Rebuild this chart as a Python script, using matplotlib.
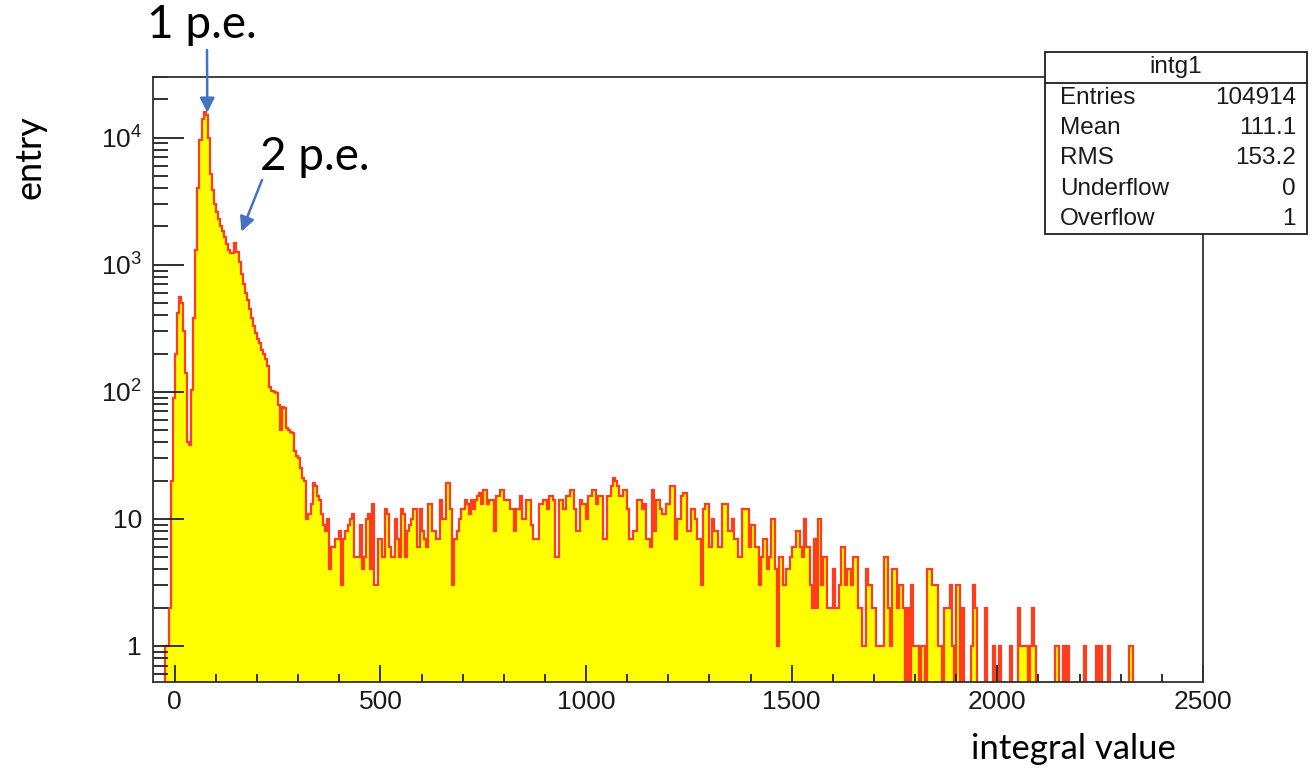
import numpy as np
import matplotlib
matplotlib.use("Agg")
import matplotlib.pyplot as plt
from matplotlib.ticker import FixedLocator, MultipleLocator, LogLocator, FixedFormatter, NullFormatter
from matplotlib.patches import Rectangle
from matplotlib.lines import Line2D

# ---------------- data (histogram "intg1", bin width 5, range -50 .. 2500) ----------------
BIN_LO, BIN_HI, NBINS = -50.0, 2500.0, 510

counts_pre = [0, 0, 0, 0, 0, 1, 1, 2, 20, 90]                      # -50 .. -5

counts_peak = [200, 420, 560, 500, 300, 140, 40, 38, 104, 380,     # 0 .. 45
               1300, 4000, 9500, 14000, 16000, 15000, 10000, 5200, 3900, 3000,
               2600, 2300, 2000, 1850, 1650, 1450, 1300, 1240, 1240, 1480,
               1250, 1050, 850, 700, 600, 530, 450, 380, 330, 290,
               260, 240, 215, 200, 180, 160, 110, 102, 100, 98]      # .. 245

counts_fall = [78, 50, 76, 74, 52, 50, 48, 47, 34, 31,
               30, 25, 21, 20, 10, 11, 13, 19, 18, 15,
               14, 11, 9, 8, 10, 4, 6, 6, 7, 7,
               8, 3, 7, 8, 9, 10, 11, 5, 5, 5,
               9, 4, 5, 10, 11, 4, 13, 3, 3, 7]                      # 250 .. 495

counts_mid = [7, 5, 12, 11, 6, 5, 5, 10, 7, 5,
              12, 11, 5, 8, 9, 10, 12, 12, 6, 12,
              8, 7, 6, 13, 13, 8, 8, 7, 7, 14,
              10, 10, 19, 19, 12, 3, 7, 8, 10, 12,
              12, 14, 13, 11, 14, 12, 14, 15, 16, 13,
              17, 17, 13, 14, 14, 8, 15, 15, 17, 17,
              14, 14, 14, 12, 12, 8, 12, 12, 15, 10,
              10, 14, 14, 9, 7, 7, 7, 13, 13, 14,
              14, 12, 15, 15, 14, 5, 5, 14, 14, 12,
              15, 15, 17, 17, 12, 8, 8, 14, 13, 13]                 # 500 .. 995

counts_high = [10, 15, 15, 17, 17, 13, 15, 15, 7, 7,
               15, 15, 18, 21, 20, 18, 15, 15, 17, 17,
               12, 7, 7, 8, 8, 14, 14, 12, 13, 7,
               7, 6, 17, 8, 14, 14, 12, 11, 11, 13,
               13, 18, 18, 7, 10, 10, 15, 16, 16, 8,
               8, 12, 12, 10, 7, 7, 3, 12, 13, 13,
               6, 10, 8, 8, 6, 6, 13, 13, 13, 8,
               8, 10, 7, 7, 5, 5, 12, 12, 12, 6,
               9, 9, 6, 6, 3, 5, 7, 7, 4, 5,
               10, 10, 4, 1, 5, 5, 3, 4, 4, 5]                      # 1000 .. 1495

counts_tail = [6, 6, 8, 8, 6, 5, 10, 6, 6, 3,
               2, 7, 2, 10, 3, 5, 5, 2, 2, 2,
               4, 2, 2, 3, 6, 6, 3, 4, 4, 3,
               5, 5, 2, 2, 1, 1, 4, 3, 3, 2,
               2, 1, 1, 1, 1, 5, 5, 2, 1, 4,
               4, 2, 3, 3, 2, 0, 2, 0, 3, 1,
               1, 1, 0, 1, 1, 0, 4, 4, 3, 3,
               3, 1, 1, 0, 2, 2, 2, 3, 1, 0,
               3, 3, 0, 2, 0, 0, 0, 1, 3, 2,
               0, 0, 0, 0, 2, 0, 0, 0, 1, 0,
               0, 1, 0, 0, 0, 0, 1, 0, 0, 0,
               2, 1, 1, 1, 1, 0, 1, 2, 1, 0,
               0, 0, 0, 0, 0, 0, 0, 0, 1, 1,
               0, 0, 1, 0, 1, 0, 0, 0, 0, 0,
               0, 0, 1, 0, 0, 0, 0, 0, 1, 0,
               1, 0, 0, 0, 1, 0, 0, 0, 0, 0,
               0, 0, 0, 0, 1, 1, 0, 0, 0, 0,
               0, 0, 0, 0, 0, 0, 0, 0, 0, 0,
               0, 0, 0, 0, 0, 0, 0, 0, 0, 0,
               0, 0, 0, 0, 0, 0, 0, 0, 0, 0]                        # 1500 .. 2495

x_ticks = [0, 500, 1000, 1500, 2000, 2500]
x_tick_labels = ["0", "500", "1000", "1500", "2000", "2500"]
y_ticks = [1, 10, 100, 1000, 10000]
y_tick_labels = ["1", "10", r"$\mathregular{10^{2}}$", r"$\mathregular{10^{3}}$", r"$\mathregular{10^{4}}$"]

stats_title = "intg1"
stats_names = ["Entries", "Mean", "RMS", "Underflow", "Overflow"]
stats_values = ["104914", "111.1", "153.2", "0", "1"]

peak1_pos, peak1_val = 79, 15700
peak2_pos, peak2_val = 162, 1820

# ---------------- figure ----------------
plt.rcParams["font.family"] = ["Liberation Sans", "DejaVu Sans"]
plt.rcParams["mathtext.fontset"] = "custom"
plt.rcParams["mathtext.rm"] = "Liberation Sans"
plt.rcParams["mathtext.it"] = "Liberation Sans:italic"
plt.rcParams["mathtext.bf"] = "Liberation Sans:bold"

W, H = 1312, 770
fig = plt.figure(figsize=(W / 100, H / 100), dpi=100)
fig.patch.set_facecolor("white")


def fx(px):
    return px / W


def fy(py):
    return 1 - py / H


ax = fig.add_axes([fx(153), fy(682), fx(1203) - fx(153), fy(77) - fy(682)])

counts = np.concatenate([counts_pre, counts_peak, counts_fall, counts_mid, counts_high, counts_tail]).astype(float)
edges = np.linspace(BIN_LO, BIN_HI, NBINS + 1)
FLOOR = 1e-2
draw_vals = np.where(counts > 0, counts, FLOOR)

ax.stairs(draw_vals, edges, baseline=FLOOR, fill=True, color="#ffff00", lw=0)
ax.stairs(draw_vals, edges, baseline=FLOOR, color="#ff3c1c", lw=1.6)

ax.set_yscale("log")
ax.set_xlim(-53, 2500)
ax.set_ylim(0.52, 3.0e4)

for sp in ax.spines.values():
    sp.set_color("#303030")
    sp.set_linewidth(1.3)

ax.xaxis.set_major_locator(FixedLocator(x_ticks))
ax.xaxis.set_major_formatter(FixedFormatter(x_tick_labels))
ax.xaxis.set_minor_locator(MultipleLocator(100))
ax.yaxis.set_major_locator(FixedLocator(y_ticks))
ax.yaxis.set_major_formatter(FixedFormatter(y_tick_labels))
ax.yaxis.set_minor_locator(LogLocator(base=10, subs=np.arange(2, 10)))
ax.yaxis.set_minor_formatter(NullFormatter())

ax.tick_params(axis="both", which="both", direction="in", top=False, right=False,
               color="#202020", labelcolor="#1a1a1a")
ax.tick_params(axis="y", which="major", length=22, width=1.3, labelsize=19, pad=8)
ax.tick_params(axis="y", which="minor", length=11, width=1.3)
ax.tick_params(axis="x", which="major", length=12, width=1.3, labelsize=19, pad=6)
ax.tick_params(axis="x", which="minor", length=6, width=1.3)

# ---------------- stats box ----------------
bx0, by0, bx1, by1 = 1045, 52, 1307, 234
box = Rectangle((fx(bx0), fy(by1)), fx(bx1) - fx(bx0), fy(by0) - fy(by1),
                transform=fig.transFigure, facecolor="white", edgecolor="#202020", lw=1.3, zorder=10)
fig.add_artist(box)
fig.add_artist(Line2D([fx(bx0), fx(bx1)], [fy(83), fy(83)], transform=fig.transFigure,
                      color="#202020", lw=1.3, zorder=11))
fig.text(fx((bx0 + bx1) / 2), fy(67), stats_title, ha="center", va="center", fontsize=17.5,
         color="#1a1a1a", zorder=12)
row_y = [98, 128, 158, 189, 219]
for name, val, ry in zip(stats_names, stats_values, row_y):
    fig.text(fx(1060), fy(ry), name, ha="left", va="center", fontsize=17.5, color="#1a1a1a", zorder=12)
    fig.text(fx(1296), fy(ry), val, ha="right", va="center", fontsize=17.5, color="#1a1a1a", zorder=12)

# ---------------- annotations ----------------
ann_font = ["Lato", "DejaVu Sans"]
arrow_col = "#4472c4"
ax.annotate("", xy=(peak1_pos, peak1_val), xytext=(fx(207), fy(50)), textcoords="figure fraction",
            arrowprops=dict(arrowstyle="-|>", color=arrow_col, lw=1.8, mutation_scale=22,
                            shrinkA=0, shrinkB=0), annotation_clip=False)
ax.annotate("", xy=(peak2_pos, peak2_val), xytext=(fx(262), fy(180)), textcoords="figure fraction",
            arrowprops=dict(arrowstyle="-|>", color=arrow_col, lw=1.8, mutation_scale=22,
                            shrinkA=0, shrinkB=0), annotation_clip=False)

fig.text(fx(202), fy(25), "1 p.e.", ha="center", va="center", fontsize=33, family=ann_font, color="black")
fig.text(fx(315), fy(157), "2 p.e.", ha="center", va="center", fontsize=33, family=ann_font, color="black")
fig.text(fx(30), fy(157), "entry", ha="center", va="center", rotation=90, fontsize=26,
         family=ann_font, color="black")
fig.text(fx(1073), fy(749), "integral value", ha="center", va="center", fontsize=25,
         family=ann_font, color="black")

fig.savefig("out.png", dpi=100, facecolor="white")
